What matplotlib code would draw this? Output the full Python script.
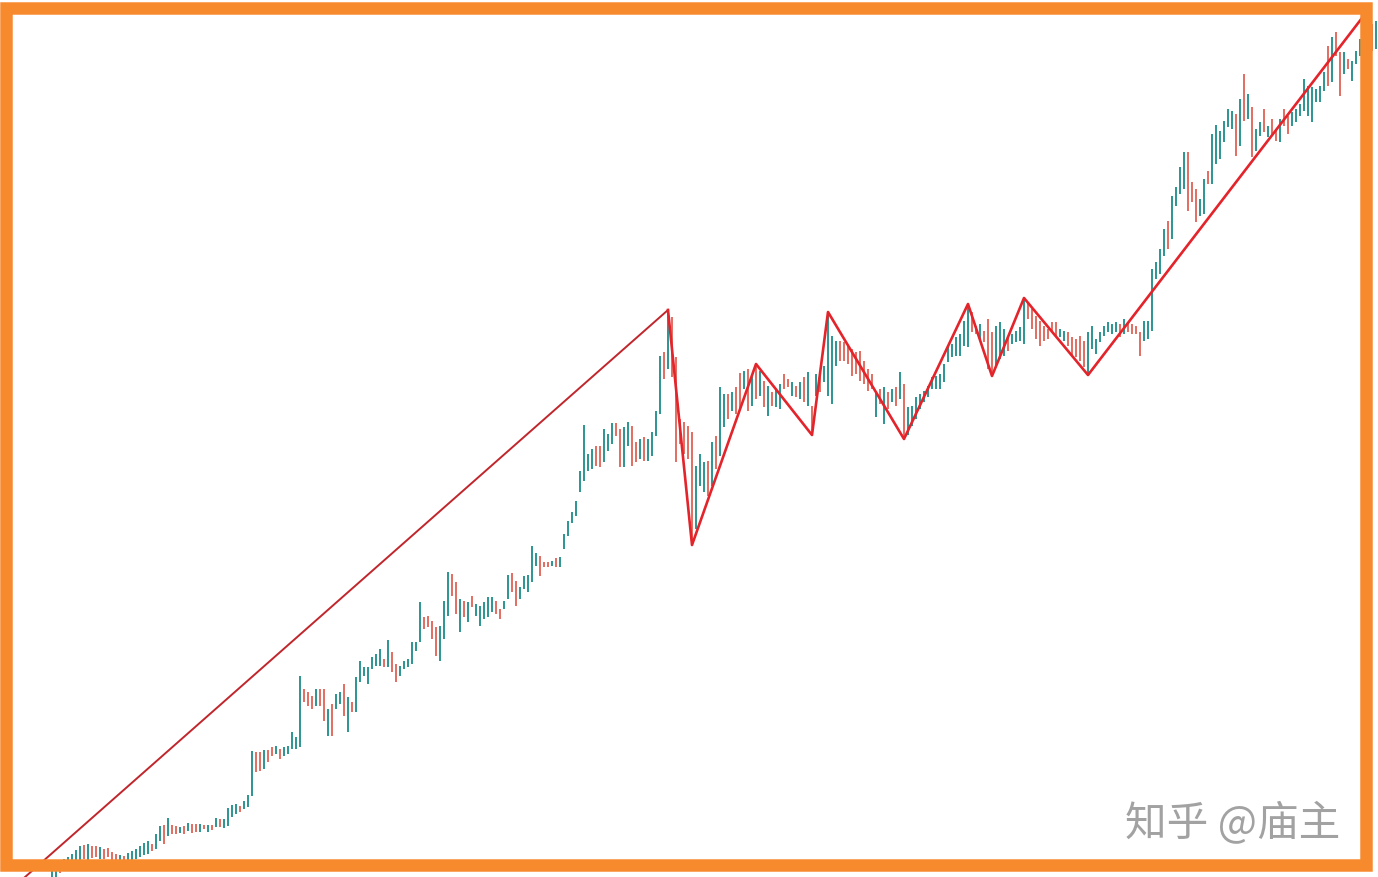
import matplotlib.pyplot as plt
from matplotlib.patches import Rectangle
import numpy as np

plt.rcParams['font.family'] = ['Noto Sans CJK SC', 'DejaVu Sans']

# OHLC bar ranges (price units), one bar per session
highs = [12, 14, 16, 18, 20, 23, 27, 31, 32, 33,
         31, 31, 30, 28, 29, 25, 23, 22, 21, 24,
         26, 28, 31, 34, 36, 33, 43, 51, 52, 59,
         52, 51, 50, 51, 54, 53, 53, 53, 52, 52,
         52, 59, 58, 58, 69, 72, 73, 71, 76, 82,
         126, 125, 125, 127, 127, 130, 131, 128, 130, 131,
         145, 140, 201, 188, 185, 181, 188, 188, 188, 168,
         173, 183, 185, 193, 180, 175, 200, 216, 210, 210,
         220, 223, 228, 218, 237, 225, 213, 211, 216, 218,
         235, 235, 275, 260, 261, 256, 250, 251, 276, 305,
         303, 295, 278, 276, 275, 281, 273, 271, 275, 280,
         280, 276, 268, 276, 302, 304, 296, 290, 301, 302,
         331, 324, 321, 315, 315, 316, 319, 320, 343, 356,
         365, 376, 406, 452, 423, 428, 431, 431, 448, 443,
         454, 454, 448, 450, 455, 451, 435, 438, 440, 438,
         445, 466, 521, 525, 567, 560, 520, 458, 455, 451,
         445, 411, 423, 415, 416, 435, 441, 490, 483, 483,
         485, 490, 504, 506, 508, 500, 510, 506, 496, 491,
         485, 488, 493, 503, 498, 495, 491, 495, 500, 505,
         471, 503, 501, 511, 563, 541, 536, 536, 535, 531,
         528, 525, 526, 516, 508, 503, 485, 488, 490, 485,
         488, 490, 505, 493, 470, 471, 480, 483, 486, 491,
         500, 501, 503, 513, 531, 533, 540, 543, 556, 573,
         565, 551, 553, 546, 558, 545, 551, 555, 548, 540,
         543, 546, 550, 578, 575, 568, 561, 556, 551, 548,
         555, 555, 548, 546, 545, 540, 538, 541, 536, 545,
         551, 538, 545, 551, 555, 553, 555, 553, 558, 555,
         553, 551, 545, 556, 556, 608, 615, 628, 648, 656,
         681, 690, 710, 725, 725, 695, 688, 678, 698, 706,
         743, 752, 746, 756, 768, 766, 763, 778, 803, 783,
         770, 748, 755, 768, 751, 758, 748, 758, 768, 761,
         765, 768, 773, 798, 791, 790, 788, 791, 805, 831,
         840, 845, 825, 825, 818, 816, 826, 838, 843, 848,
         853, 856]
lows = [-2, 0, 4, 8, 10, 12, 14, 16, 18, 16,
        19, 20, 18, 18, 20, 16, 14, 13, 12, 14,
        16, 18, 20, 22, 23, 26, 28, 36, 33, 41,
        43, 43, 44, 43, 46, 44, 45, 45, 48, 45,
        47, 50, 50, 49, 51, 60, 63, 65, 68, 70,
        81, 105, 106, 108, 115, 121, 123, 118, 121, 123,
        128, 128, 130, 175, 171, 168, 171, 171, 156, 141,
        141, 168, 173, 161, 145, 165, 165, 195, 201, 193,
        208, 211, 211, 210, 210, 205, 195, 201, 208, 210,
        213, 226, 235, 248, 250, 238, 221, 216, 238, 261,
        281, 263, 245, 260, 255, 270, 261, 251, 258, 260,
        265, 263, 258, 268, 278, 285, 271, 278, 288, 285,
        295, 311, 301, 310, 310, 311, 310, 310, 328, 341,
        354, 361, 385, 396, 406, 408, 411, 410, 415, 426,
        433, 441, 410, 410, 431, 411, 415, 418, 416, 416,
        421, 441, 463, 498, 508, 500, 415, 433, 423, 418,
        336, 348, 391, 385, 381, 391, 408, 421, 450, 458,
        466, 463, 468, 488, 466, 471, 478, 481, 470, 461,
        471, 470, 468, 488, 490, 481, 480, 478, 475, 471,
        446, 481, 485, 495, 481, 473, 511, 516, 516, 513,
        501, 503, 496, 493, 486, 488, 460, 473, 453, 468,
        475, 471, 478, 438, 442, 451, 458, 468, 475, 480,
        488, 488, 488, 495, 515, 520, 521, 521, 531, 530,
        545, 543, 538, 535, 508, 501, 511, 518, 521, 526,
        533, 535, 536, 533, 558, 548, 538, 531, 536, 538,
        545, 541, 540, 536, 531, 521, 520, 516, 510, 502,
        528, 523, 535, 541, 545, 543, 545, 540, 543, 545,
        543, 543, 521, 536, 538, 546, 598, 603, 621, 628,
        638, 671, 683, 688, 666, 675, 655, 661, 663, 693,
        693, 713, 718, 735, 750, 748, 721, 731, 756, 758,
        720, 726, 741, 745, 740, 743, 736, 735, 751, 743,
        751, 755, 761, 766, 761, 755, 775, 775, 786, 791,
        795, 821, 781, 803, 808, 796, 813, 821, 818, 823,
        826, 828]
# u = up bar, d = down bar
sides = ("uuduuuuudu" "dduddddudu" "uuuuuduudu" "ddududdudu" "duduuuuduu"
         "uddudduduu" "uuuddduddu" "duududuuuu" "uuududduuu" "uuudddduuu"
         "ddududuuuu" "udduudduuu" "uuddduduuu" "uuuuuudduu" "udduuddudu"
         "uuududdddd" "duuududuud" "uddudududu" "duuddududu" "duduuuuddd"
         "ddddddudud" "ududuuuuuu" "uuuuuuuuuu" "dduddduuud" "uuuudddddd"
         "dduudddddu" "uuuuuuudud" "ddduuuuuud" "uuuuddduud" "uuuuuududu"
         "duududdudd" "uuuuuuuuud" "udduduuuuu" "du")

# trend lines (bar index, price)
trend_x = [-9, 154]
trend_y = [-8, 567]
zigzag_x = [154, 160, 176, 190, 194, 213, 229, 235, 243, 259, 327.5]
zigzag_y = [567, 332, 513, 442, 565, 438, 573, 501, 579, 502, 859]

watermark = "知乎 @庙主"

fig = plt.figure(figsize=(13.78, 8.78), dpi=100)
ax = fig.add_axes([0, 0, 1, 1])

n = min(len(highs), len(lows), len(sides))
idx = np.arange(n)
colors = ['#24918f' if s == 'u' else '#e2675a' for s in sides[:n]]
ax.vlines(idx, lows[:n], highs[:n], colors=colors, linewidth=1.35, zorder=2)

ax.plot(trend_x, trend_y, color='#c0262b', lw=1.4, zorder=3)
ax.plot(zigzag_x, zigzag_y, color='#e3242b', lw=1.9, zorder=3)

ax.set_xlim(-13, 331.5)
ax.set_ylim(0, 878)
ax.axis('off')

fig.text(0.8164, 0.0478, watermark, fontsize=30, color='#a2a2a2',
         ha='left', va='baseline')

# orange frame
fig.add_artist(Rectangle((0.0047, 0.0142), 0.9866, 0.9755, transform=fig.transFigure,
                         fill=False, edgecolor='#f88a2e', linewidth=9, joinstyle='miter',
                         zorder=10))

fig.savefig('out.png', dpi=100, facecolor='white')
